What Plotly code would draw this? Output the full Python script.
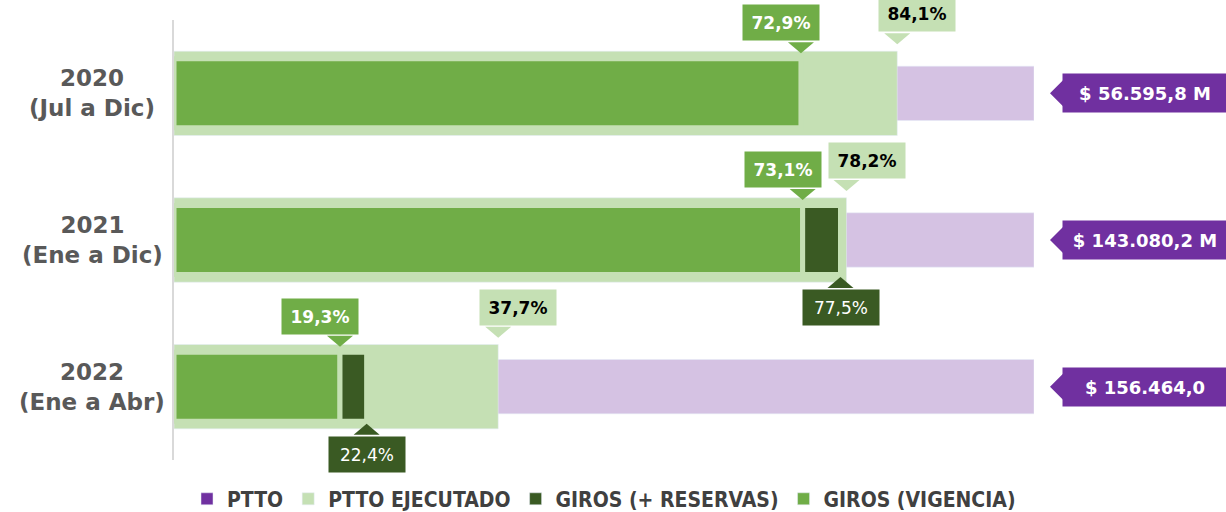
import plotly.graph_objects as go

# ---------------- data ----------------
categories = ["2020<br>(Jul a Dic)", "2021<br>(Ene a Dic)", "2022<br>(Ene a Abr)"]
ptto_pct = [100, 100, 100]
ptto_labels = ["$ 56.595,8 M", "$ 143.080,2 M", "$ 156.464,0"]
ejecutado = [84.1, 78.2, 37.7]
giros_reservas = [None, 77.5, 22.4]
giros_vigencia = [72.9, 73.1, 19.3]
legend_names = ["PTTO", "PTTO EJECUTADO", "GIROS (+ RESERVAS)", "GIROS (VIGENCIA)"]

# ---------------- style ----------------
PURPLE = "#7030A0"
PURPLE_L = "#D5C2E3"
GREEN_L = "#C5E0B4"
GREEN = "#70AD47"
GREEN_D = "#3A5A23"
GRAY = "#595959"
FONT = "DejaVu Sans, Noto Sans, sans-serif"
LEGFONT = "Liberation Sans Narrow, DejaVu Sans Condensed, Noto Sans, sans-serif"


def fmt(v):
    return f"{v:.1f}%".replace(".", ",")


fig = go.Figure()

# background PTTO (100%)
fig.add_bar(y=categories, x=ptto_pct, orientation="h", width=0.37,
            marker=dict(color=PURPLE_L), showlegend=False, hoverinfo="skip")
# PTTO ejecutado
fig.add_bar(y=categories, x=ejecutado, orientation="h", width=0.575,
            marker=dict(color=GREEN_L, cornerradius=10), showlegend=False, hoverinfo="skip")
# giros vigencia
fig.add_bar(y=categories, x=giros_vigencia, orientation="h", width=0.47,
            marker=dict(color=GREEN, line=dict(color=GREEN_L, width=5)),
            showlegend=False, hoverinfo="skip")
# giros + reservas (increment over vigencia)
delta = [(r - v) if r is not None else None for r, v in zip(giros_reservas, giros_vigencia)]
fig.add_bar(y=categories, x=delta, base=giros_vigencia, orientation="h", width=0.47,
            marker=dict(color=GREEN_D, line=dict(color=GREEN_L, width=5)),
            showlegend=False, hoverinfo="skip")

# legend-only entries
for name, col in zip(legend_names, [PURPLE, GREEN_L, GREEN_D, GREEN]):
    fig.add_bar(x=[None], y=[None], orientation="h", name=f"<b>{name}</b>", marker_color=col,
                showlegend=True)


def callout(cat, xv, text, bg, fg, bold, above, box_off, tip_off, xshift):
    sign = 1 if above else -1
    fig.add_annotation(
        x=xv, y=cat, xref="x", yref="y",
        text=f"<b>{text}</b>" if bold else text, showarrow=False,
        bgcolor=bg, font=dict(color=fg, size=17, family=FONT),
        width=64, height=23, borderpad=6,
        xanchor="center", yanchor="bottom" if above else "top",
        yshift=sign * box_off, xshift=xshift,
    )
    b = sign * (box_off - 1)
    fig.add_shape(
        type="path", xref="x", yref="y", xsizemode="pixel", ysizemode="pixel",
        xanchor=xv, yanchor=cat,
        path=f"M -13 {b} L 13 {b} L 0 {sign * tip_off} Z",
        fillcolor=bg, line_width=0, layer="above",
    )


for i, cat in enumerate(categories):
    # ejecutado label
    callout(cat, ejecutado[i], fmt(ejecutado[i]), GREEN_L, "black", True, True, 61, 49, 20)
    # vigencia label
    callout(cat, giros_vigencia[i], fmt(giros_vigencia[i]), GREEN, "white", True, True, 52, 40, -20)
    # reservas label
    if giros_reservas[i] is not None:
        callout(cat, giros_reservas[i], fmt(giros_reservas[i]), GREEN_D, "white", False, False, 49, 37, 0)
    # PTTO value label on the right
    fig.add_annotation(
        x=1, y=cat, xref="paper", yref="y", text=f"<b>{ptto_labels[i]}</b>",
        showarrow=False, bgcolor=PURPLE, font=dict(color="white", size=18, family=FONT),
        width=152, height=26, borderpad=6, xanchor="left", xshift=28,
    )
    fig.add_shape(
        type="path", xref="paper", yref="y", xsizemode="pixel", ysizemode="pixel",
        xanchor=1, yanchor=cat, path="M 29 13 L 29 -13 L 16 0 Z",
        fillcolor=PURPLE, line_width=0,
    )
    # category label on the left
    fig.add_annotation(
        x=-0.0953, y=cat, xref="paper", yref="y", text=f"<b>{cat}</b>",
        showarrow=False, align="center", xanchor="center", yanchor="middle",
        font=dict(color=GRAY, size=23, family=FONT),
    )

fig.update_layout(
    width=1226, height=512,
    margin=dict(l=174, r=192, t=20, b=52, autoexpand=False),
    barmode="overlay",
    plot_bgcolor="white", paper_bgcolor="white",
    hovermode=False,
    xaxis=dict(range=[0, 100], visible=False, fixedrange=True),
    yaxis=dict(type="category", categoryorder="array", categoryarray=categories,
               range=[2.5, -0.5], showticklabels=False, showgrid=False, zeroline=False,
               showline=True, linecolor="#D9D9D9", linewidth=2, layer="below traces",
               ticks="", fixedrange=True),
    legend=dict(orientation="h", x=0.5, xanchor="center", y=-0.089, yanchor="middle",
                font=dict(family=LEGFONT, size=21, color="#404040"),
                itemclick=False, itemdoubleclick=False, traceorder="normal"),
    font=dict(family=FONT),
)

fig.write_html(
    "out.html",
    config={"displayModeBar": False},
    post_script="document.body.style.margin='0px';document.body.style.overflow='hidden';",
)
